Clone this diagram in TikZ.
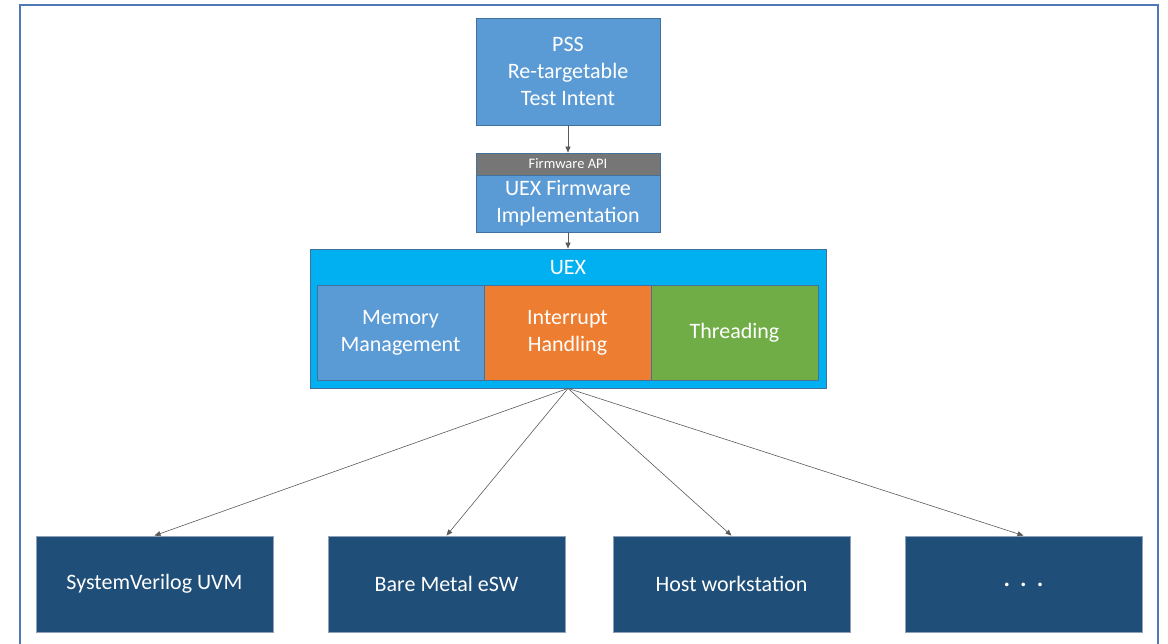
\documentclass[tikz,border=0pt]{standalone}
\usepackage{fontspec}
\setmainfont{Carlito}
\usepackage{tikz}
\usetikzlibrary{arrows.meta,positioning}

\definecolor{frameblue}{RGB}{79,120,182}
\definecolor{boxblue}{RGB}{91,155,213}
\definecolor{boxedge}{RGB}{65,113,156}
\definecolor{uexcyan}{RGB}{0,176,240}
\definecolor{apigray}{RGB}{118,118,118}
\definecolor{intorange}{RGB}{237,125,49}
\definecolor{thrgreen}{RGB}{112,173,71}
\definecolor{envblue}{RGB}{31,78,121}
\definecolor{envedge}{RGB}{143,160,185}
\definecolor{linkgray}{RGB}{90,90,90}

\tikzset{
  blk/.style={draw=boxedge,line width=0.8pt,text=white,align=center,inner sep=0pt,
    font=\fontsize{22}{27}\selectfont},
  envbox/.style={blk,draw=envedge,fill=envblue,minimum width=237,minimum height=96},
  partbox/.style={blk,minimum width=167,minimum height=95},
  link/.style={draw=linkgray,line width=0.6pt,-{Triangle[length=6pt,width=5pt]}}
}

\begin{document}
\begin{tikzpicture}[x=1pt,y=-1pt]
\useasboundingbox (0,0) rectangle (1168,643);
\draw[frameblue,line width=1.5pt] (20,650) -- (20,5) -- (1158,5) -- (1158,650);

\node[blk,fill=boxblue,minimum width=184,minimum height=107] (pss) at (568,71.5) {PSS\\Re-targetable\\Test Intent};
\node[blk,fill=apigray,minimum width=184,minimum height=22,font=\fontsize{14.5}{16}\selectfont] (api) at (568,164) {Firmware API};
\node[blk,fill=boxblue,minimum width=184,minimum height=57] (fw) at (568,203.5) {UEX Firmware\\Implementation};

\node[blk,fill=uexcyan,minimum width=516,minimum height=139] (uex) at (568,318.5) {};
\node[text=white,font=\fontsize{22}{27}\selectfont] (uexlbl) at (568,268) {UEX};
\node[partbox,fill=boxblue] (mem) at (400.5,332.5) {Memory\\Management};
\node[partbox,fill=intorange] (intr) at (567.5,332.5) {Interrupt\\Handling};
\node[partbox,fill=thrgreen] (thr) at (734.5,332.5) {Threading};

\node[envbox] (uvm) at (154.5,584) {SystemVerilog UVM};
\node[envbox] (bare) at (446.5,584) {Bare Metal eSW};
\node[envbox] (host) at (731.5,584) {Host workstation};
\node[envbox,font=\fontsize{30}{30}\selectfont] (more) at (1023.5,584) {\raisebox{-5pt}{. . .}};

\draw[link] (pss) -- (api);
\draw[link] (fw) -- (uex);
\foreach \t in {uvm,bare,host,more}
  \draw[link] (uex.south) -- (\t.north);
\end{tikzpicture}
\end{document}
